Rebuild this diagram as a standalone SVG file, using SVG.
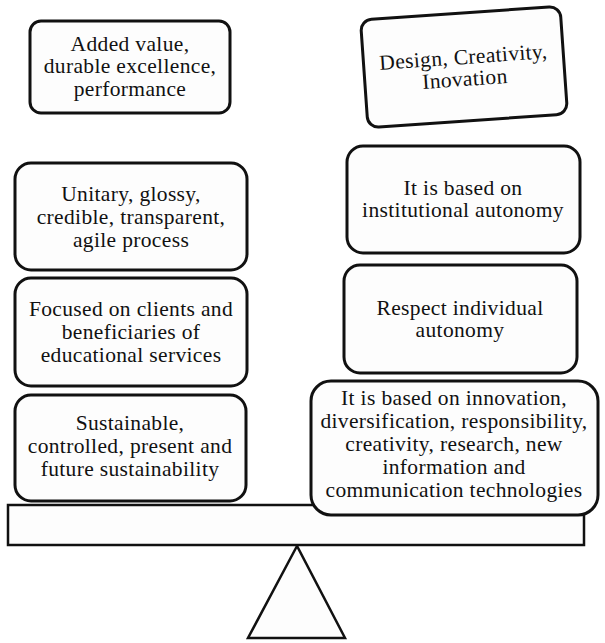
<svg xmlns="http://www.w3.org/2000/svg" width="605" height="643" viewBox="0 0 605 643">
<style>
.box{fill:#fdfdfd;stroke:#111;stroke-width:3}
.shape{fill:#fdfdfd;stroke:#111;stroke-width:2.5}
.t{font-size:21.5px;letter-spacing:0.35px;fill:#111;text-anchor:middle}
</style>
<rect width="605" height="643" fill="#fff"/>
<g id="fulcrum"><polygon class="shape" points="297,546 248,638 345,638"/></g>
<g id="beam"><rect class="shape" x="8" y="505" width="576" height="40"/></g>
<g font-family="'Liberation Serif', 'Times New Roman', Times, 'DejaVu Serif', serif">
<g id="added-value">
<rect class="box" x="30" y="21" width="200" height="92" rx="11"/>
<text class="t" x="130" y="51">Added value,</text>
<text class="t" x="130" y="73">durable excellence,</text>
<text class="t" x="130" y="96">performance</text>
</g>
<g id="design" transform="translate(464,67) rotate(-4)">
<rect class="box" x="-100" y="-54" width="200" height="108" rx="11"/>
<text class="t" x="0" y="-3">Design, Creativity,</text>
<text class="t" x="0" y="19">Inovation</text>
</g>
<g id="unitary">
<rect class="box" x="15" y="163" width="232" height="107" rx="16"/>
<text class="t" x="131" y="201">Unitary, glossy,</text>
<text class="t" x="131" y="224">credible, transparent,</text>
<text class="t" x="131" y="247">agile process</text>
</g>
<g id="focused">
<rect class="box" x="15" y="278" width="232" height="108" rx="16"/>
<text class="t" x="131" y="316">Focused on clients and</text>
<text class="t" x="131" y="339">beneficiaries of</text>
<text class="t" x="131" y="362">educational services</text>
</g>
<g id="sustainable">
<rect class="box" x="15" y="395" width="231" height="106" rx="16"/>
<text class="t" x="130" y="430">Sustainable,</text>
<text class="t" x="130" y="453">controlled, present and</text>
<text class="t" x="130" y="476">future sustainability</text>
</g>
<g id="institutional">
<rect class="box" x="347" y="146" width="233" height="107" rx="16"/>
<text class="t" x="463" y="195">It is based on</text>
<text class="t" x="463" y="217">institutional autonomy</text>
</g>
<g id="respect">
<rect class="box" x="344" y="265" width="233" height="108" rx="16"/>
<text class="t" x="460" y="315">Respect individual</text>
<text class="t" x="460" y="337">autonomy</text>
</g>
<g id="innovation">
<rect class="box" x="311" y="381" width="287" height="134" rx="20"/>
<text class="t" x="454" y="405">It is based on innovation,</text>
<text class="t" x="454" y="428">diversification, responsibility,</text>
<text class="t" x="454" y="451">creativity, research, new</text>
<text class="t" x="454" y="474">information and</text>
<text class="t" x="454" y="497">communication technologies</text>
</g>
</g>
</svg>
